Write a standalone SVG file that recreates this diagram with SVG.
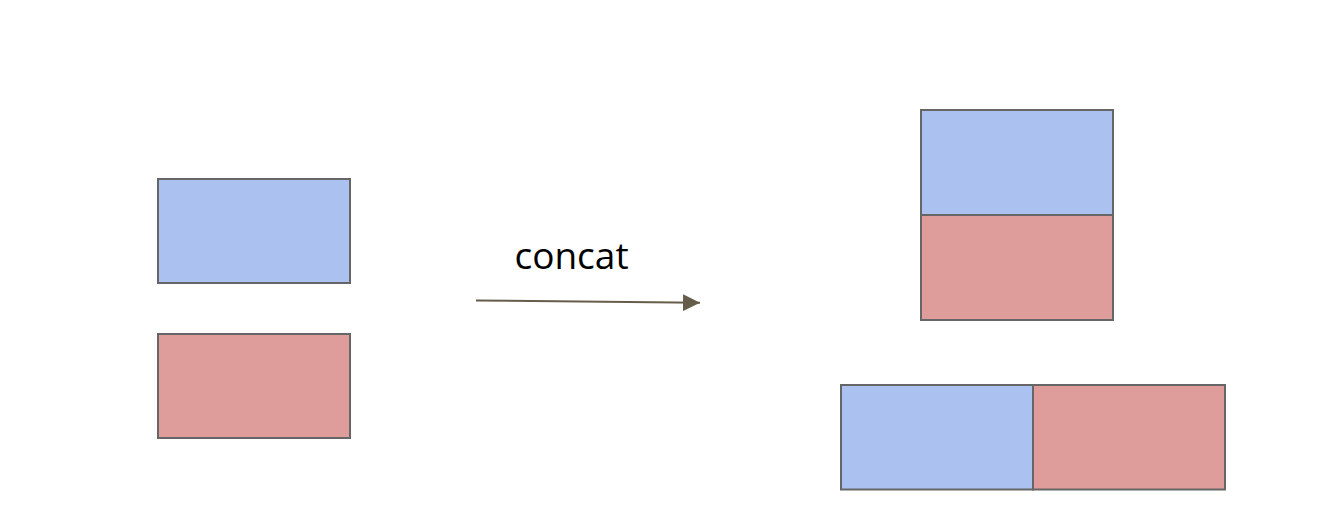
<svg xmlns="http://www.w3.org/2000/svg" width="1324" height="532" viewBox="0 0 1324 532">
<style>
.blue{fill:#abc1ef;stroke:#666666;stroke-width:2}
.red{fill:#de9c9a;stroke:#666666;stroke-width:2}
.lbl{font-family:"Open Sans","Noto Sans",sans-serif;font-size:37px;fill:#000}
.conn{stroke:#665c4a;stroke-width:2;fill:none}
</style>
<defs>
<marker id="ah" markerUnits="userSpaceOnUse" markerWidth="18" markerHeight="17" refX="17" refY="8.5" orient="auto">
<path d="M0,0 L17,8.5 L0,17 Z" fill="#665c4a"/>
</marker>
</defs>
<rect width="1324" height="532" fill="#ffffff"/>
<g id="in-blue"><rect class="blue" x="158" y="179" width="192" height="104"/></g>
<g id="in-red"><rect class="red" x="158" y="334" width="192" height="104"/></g>
<g id="out-v-blue"><rect class="blue" x="921" y="110" width="192" height="105"/></g>
<g id="out-v-red"><rect class="red" x="921" y="215" width="192" height="105"/></g>
<g id="out-h-blue"><rect class="blue" x="841" y="385" width="192" height="104.5"/></g>
<g id="out-h-red"><rect class="red" x="1033" y="385" width="192" height="104.5"/></g>
<g id="connectors">
<line class="conn" x1="476" y1="300.5" x2="700" y2="302.8" marker-end="url(#ah)"/>
<text class="lbl" x="571.5" y="268.5" text-anchor="middle">concat</text>
</g>
</svg>
